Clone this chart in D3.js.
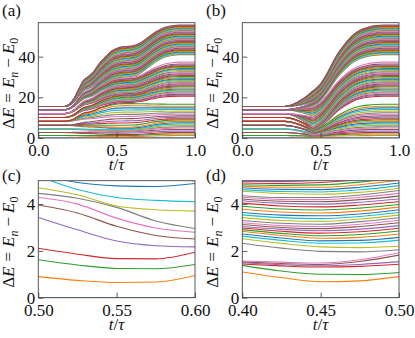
<!DOCTYPE html>
<html><head><meta charset="utf-8">
<script src="https://cdn.jsdelivr.net/npm/d3@7"></script>
<style>body{margin:0;background:#fff}svg{display:block}
text{font-family:'Liberation Serif','DejaVu Serif',serif}</style>
</head><body>
<script>
// ---------------- DATA ----------------
const palette = ["#1f77b4","#ff7f0e","#2ca02c","#d62728","#9467bd","#8c564b","#e377c2","#7f7f7f","#bcbd22","#17becf"];

// degenerate levels at t = 0 (shared by a and b) and their multiplicities
const startLevels = [0, 1.2, 2.7, 4.4, 6.2, 8.2, 10.1, 12.0, 13.9, 15.5];
const startDegeneracy = [1, 2, 3, 4, 6, 8, 10, 13, 18, 31];

// sorted levels at t = 1 (shared by a and b)
const endLevels = [0,
 1.2, 2.0, 2.7, 3.4, 4.2, 4.9, 5.5, 6.2, 6.9, 7.5, 8.2, 8.9, 9.5, 10.2, 10.9, 11.7, 12.4, 13.2, 14.0, 14.8, 15.6, 16.6,
 20.6, 21.1, 21.6, 22.1, 22.7, 23.2, 23.6, 24.1, 24.6, 25.2, 25.7, 26.1, 26.6, 27.1, 27.6, 28.2, 28.7, 29.1, 29.6, 30.2,
 30.7, 31.1, 31.6, 32.1, 32.6, 33.2, 33.7, 34.1, 34.6, 35.1, 35.5, 35.9, 36.4, 37.3,
 41.0, 41.4, 41.8, 42.2, 42.6, 43.0, 43.4, 43.8, 44.2, 44.6, 45.0, 45.4, 45.8, 46.2, 46.6, 47.0, 47.4, 47.7, 48.1, 48.5,
 48.9, 49.3, 49.7, 50.1, 50.5, 50.9, 51.3, 51.7, 52.1, 52.5, 52.9, 53.3, 53.6, 54.0, 54.3, 54.7, 55.0, 55.3, 55.6];

// panel (a): sorted levels at t = 0.55
const midLevelsA = [0,
 0.64, 1.24, 1.66, 2.40, 3.04, 3.40, 3.85, 3.92, 4.28, 4.78, 5.3,
 6.3, 7.4, 8.4, 9.5, 10.6, 11.6, 12.7, 13.8, 14.8, 15.9, 16.9,
 17.4, 17.8, 18.1, 18.5, 18.9, 19.2, 19.6, 20.0, 20.3, 20.7, 21.1, 21.4, 21.8, 22.2, 22.5, 22.9, 23.3, 23.6, 24.0, 24.4,
 24.7, 25.1, 25.5, 25.8, 26.2, 26.6, 26.9, 27.3, 27.7, 28.0, 28.4, 28.8, 29.1, 29.5,
 30.0, 30.4, 30.8, 31.2, 31.6, 32.0, 32.4, 32.8, 33.2, 33.6, 34.0, 34.4, 34.8, 35.2, 35.6, 36.0, 36.4, 36.8, 37.2, 37.6,
 38.0, 38.4, 38.8, 39.2, 39.6, 40.0, 40.4, 40.8, 41.2, 41.6, 42.0, 42.4, 42.8, 43.2, 43.6, 44.0, 44.4, 44.7, 45.0];
// progress of the sweep (fraction of the way start -> mid, mid -> end)
const rampTimesA1 = [0.17, 0.20, 0.23, 0.26, 0.29, 0.32, 0.35, 0.39, 0.43, 0.47, 0.51, 0.55];
const rampFracA1  = [0, 0.04, 0.14, 0.30, 0.44, 0.50, 0.57, 0.72, 0.83, 0.93, 0.98, 1];
const rampTimesA2 = [0.55, 0.60, 0.65, 0.70, 0.75, 0.80, 0.85, 0.90, 1.0];
const rampFracA2  = [0, 0.03, 0.16, 0.42, 0.68, 0.87, 0.96, 1, 1];

// panel (d): lowest levels of protocol (b), t = 0.40 ... 0.50
const zoomTimesD = [0.40, 0.425, 0.45, 0.475, 0.50];
const zoomLevelsD = [
 [0, 0, 0, 0, 0],
 [1.10, 0.86, 0.68, 0.72, 0.90],
 [1.38, 1.14, 1.00, 0.99, 1.08],
 [1.44, 1.36, 1.31, 1.34, 1.43],
 [1.49, 1.41, 1.36, 1.42, 1.54],
 [1.53, 1.46, 1.42, 1.55, 1.82],
 [1.57, 1.52, 1.48, 1.62, 1.92],
 [2.33, 2.12, 1.98, 1.96, 2.05],
 [2.52, 2.32, 2.17, 2.14, 2.20],
 [2.63, 2.45, 2.33, 2.34, 2.46],
 [2.72, 2.55, 2.43, 2.45, 2.58],
 [2.84, 2.66, 2.54, 2.58, 2.72],
 [2.91, 2.75, 2.65, 2.70, 2.85],
 [2.98, 2.84, 2.76, 2.82, 2.97],
 [3.04, 2.92, 2.86, 2.93, 3.08],
 [3.13, 3.00, 2.95, 3.04, 3.20],
 [3.20, 3.08, 3.04, 3.14, 3.31],
 [3.30, 3.18, 3.14, 3.25, 3.42],
 [3.42, 3.30, 3.26, 3.36, 3.53],
 [3.54, 3.42, 3.38, 3.47, 3.64],
 [3.64, 3.53, 3.50, 3.58, 3.76],
 [3.78, 3.66, 3.62, 3.70, 3.87],
 [3.91, 3.79, 3.75, 3.83, 3.98],
 [4.04, 3.92, 3.88, 3.96, 4.10],
 [4.14, 4.03, 4.00, 4.08, 4.22],
 [4.22, 4.12, 4.10, 4.19, 4.34],
 [4.29, 4.20, 4.19, 4.29, 4.46],
 [4.36, 4.28, 4.28, 4.39, 4.58],
 [4.55, 4.45, 4.42, 4.50, 4.68],
 [4.62, 4.54, 4.52, 4.61, 4.79],
 [4.70, 4.63, 4.62, 4.72, 4.90],
 [4.77, 4.72, 4.72, 4.83, 5.02],
 [4.83, 4.80, 4.82, 4.94, 5.14],
 [4.90, 4.88, 4.92, 5.05, 5.26],
 [4.97, 4.96, 5.02, 5.16, 5.38],
 [5.06, 5.06, 5.12, 5.27, 5.50]
];

// panel (b): sorted levels at t = 0.45 above the ones of panel (d)
const midUpperB = [
 5.3, 5.8, 6.3, 6.8, 7.3, 7.8, 8.3, 8.8, 9.3, 9.8, 10.3, 10.8, 11.3, 11.8, 12.3, 12.8, 13.3, 13.8, 14.3, 14.8, 15.2,
 15.7, 15.9, 16.1, 16.3, 16.5, 16.7, 16.9, 17.1, 17.3, 17.5, 17.7, 17.9, 18.1, 18.3, 18.5, 18.7, 18.9, 19.1, 19.3, 19.5,
 19.7, 19.9, 20.1, 20.3, 20.5, 20.7, 20.9, 21.1, 21.3, 21.5, 21.7, 21.9, 22.1, 22.3, 22.5, 22.7, 22.85, 23.0, 23.1];
const rampTimesB1 = [0.27, 0.31, 0.35, 0.38, 0.41, 0.43, 0.45];
const rampFracB1  = [0, 0.08, 0.26, 0.45, 0.66, 0.83, 1];
const rampTimesB2 = [0.45, 0.50, 0.55, 0.60, 0.65, 0.70, 0.75, 0.80, 0.85, 0.90, 1.0];
const rampFracB2  = [0, 0.11, 0.305, 0.53, 0.70, 0.835, 0.92, 0.966, 0.99, 1, 1];

// panel (c): lowest levels of protocol (a), t = 0.50 ... 0.60
const zoomTimesC = [0.50, 0.525, 0.55, 0.575, 0.60];
const zoomLevelsC = [
 [0, 0, 0, 0, 0],
 [0.90, 0.74, 0.65, 0.67, 0.95],
 [1.62, 1.40, 1.25, 1.24, 1.42],
 [2.11, 1.86, 1.67, 1.66, 1.94],
 [3.43, 2.90, 2.42, 2.22, 2.17],
 [3.96, 3.62, 3.05, 2.66, 2.51],
 [4.29, 4.00, 3.40, 2.98, 2.80],
 [4.46, 4.25, 3.86, 3.28, 2.96],
 [4.70, 4.40, 3.92, 3.76, 3.70],
 [5.20, 4.62, 4.28, 4.16, 4.10],
 [5.30, 4.92, 4.78, 4.75, 4.88],
 [5.60, 5.40, 5.30, 5.20, 4.98]
];

const ticksAB_x = [0.0, 0.5, 1.0], ticksAB_y = [0, 20, 40];
const ticksC_x = [0.50, 0.55, 0.60], ticksD_x = [0.40, 0.45, 0.50], ticksCD_y = [0, 2, 4];
const panelLetters = ["(a)", "(b)", "(c)", "(d)"];

// ---------------- BUILD SERIES ----------------
const startPerLine = startLevels.flatMap((v, i) => Array(startDegeneracy[i]).fill(v));
const midLevelsB = zoomLevelsD.map(r => r[2]).concat(midUpperB);

function sweep(mid, t1, f1, t2, f2) {
  return startPerLine.map((s, n) => {
    const m = mid[n], e = endLevels[n];
    const pts = [[0, s]];
    t1.forEach((t, k) => pts.push([t, s + (m - s) * f1[k]]));
    t2.forEach((t, k) => { if (k > 0) pts.push([t, m + (e - m) * f2[k]]); });
    return pts;
  });
}
const linesA = sweep(midLevelsA, rampTimesA1, rampFracA1, rampTimesA2, rampFracA2);
const linesB = sweep(midLevelsB, rampTimesB1, rampFracB1, rampTimesB2, rampFracB2);
const linesC = zoomLevelsC.map(r => r.map((v, k) => [zoomTimesC[k], v]));
const linesD = zoomLevelsD.map(r => r.map((v, k) => [zoomTimesD[k], v]));

// ---------------- DRAW ----------------
const svg = d3.select("body").append("svg").attr("width", 415).attr("height", 338);
const FONT = "'Liberation Serif', 'DejaVu Serif', serif";

const panels = [
  {L: 38.3, R: 195, T: 22.7, B: 138, xd: [0, 1], yd: [0, 56.7], xt: ticksAB_x, yt: ticksAB_y, xf: ".1f", lines: linesA, lx: 2, ly: 16},
  {L: 242.3, R: 399, T: 22.7, B: 138, xd: [0, 1], yd: [0, 56.7], xt: ticksAB_x, yt: ticksAB_y, xf: ".1f", lines: linesB, lx: 206, ly: 16},
  {L: 38.3, R: 195, T: 180.7, B: 297.7, xd: [0.5, 0.6], yd: [0, 5], xt: ticksC_x, yt: ticksCD_y, xf: ".2f", lines: linesC, lx: 2, ly: 181},
  {L: 242.3, R: 399, T: 180.7, B: 297.7, xd: [0.4, 0.5], yd: [0, 5], xt: ticksD_x, yt: ticksCD_y, xf: ".2f", lines: linesD, lx: 206, ly: 181}
];

panels.forEach((p, i) => {
  const x = d3.scaleLinear().domain(p.xd).range([p.L, p.R]);
  const y = d3.scaleLinear().domain(p.yd).range([p.B, p.T]);
  const g = svg.append("g");
  const cid = "clip" + i;
  svg.append("clipPath").attr("id", cid).append("rect")
    .attr("x", p.L).attr("y", p.T).attr("width", p.R - p.L).attr("height", p.B - p.T);
  const line = d3.line().x(d => x(d[0])).y(d => y(d[1])).curve(d3.curveMonotoneX);
  g.append("g").attr("clip-path", `url(#${cid})`)
    .selectAll("path").data(p.lines).join("path")
    .attr("d", line).attr("fill", "none")
    .attr("stroke", (d, n) => palette[n % 10]).attr("stroke-width", 1.1);

  const ax = g.append("g").attr("transform", `translate(0,${p.B})`)
    .call(d3.axisBottom(x).tickValues(p.xt).tickFormat(d3.format(p.xf)).tickSize(-5).tickPadding(6));
  const ay = g.append("g").attr("transform", `translate(${p.L},0)`)
    .call(d3.axisLeft(y).tickValues(p.yt).tickFormat(d3.format("d")).tickSize(-5).tickPadding(3));
  [ax, ay].forEach(a => {
    a.attr("font-family", null);
    a.select(".domain").remove();
    a.selectAll("line").attr("stroke", "#333").attr("stroke-width", 0.8);
    a.selectAll("text").style("font-family", FONT).style("font-size", "17px").attr("fill", "#111");
  });
  g.append("rect").attr("x", p.L).attr("y", p.T).attr("width", p.R - p.L).attr("height", p.B - p.T)
    .attr("fill", "none").attr("stroke", "#444").attr("stroke-width", 0.9);

  // panel letter
  g.append("text").attr("x", p.lx).attr("y", p.ly).text(panelLetters[i])
    .style("font-family", FONT).style("font-size", "17px").attr("fill", "#111");

  // y label
  const yl = g.append("text")
    .attr("transform", `translate(${p.L - 24},${(p.T + p.B) / 2 + 3}) rotate(-90)`)
    .attr("text-anchor", "middle").style("font-family", FONT).style("font-size", "17px").attr("fill", "#111");
  yl.append("tspan").text("Δ");
  yl.append("tspan").style("font-style", "italic").text("E");
  yl.append("tspan").attr("dx", 5).text("=");
  yl.append("tspan").attr("dx", 5).style("font-style", "italic").text("E");
  yl.append("tspan").style("font-style", "italic").style("font-size", "12px").attr("dy", 4).text("n");
  yl.append("tspan").attr("dx", 4).attr("dy", -4).text("−");
  yl.append("tspan").attr("dx", 4).style("font-style", "italic").text("E");
  yl.append("tspan").style("font-size", "12px").attr("dy", 4).text("0");

  // x label
  const xl = g.append("text").attr("x", (p.L + p.R) / 2).attr("y", p.B + 32)
    .attr("text-anchor", "middle").style("font-family", FONT).style("font-size", "17px").attr("fill", "#111");
  xl.append("tspan").style("font-style", "italic").text("t");
  xl.append("tspan").text("/");
  xl.append("tspan").style("font-style", "italic").text("τ");
});
</script>
</body></html>
